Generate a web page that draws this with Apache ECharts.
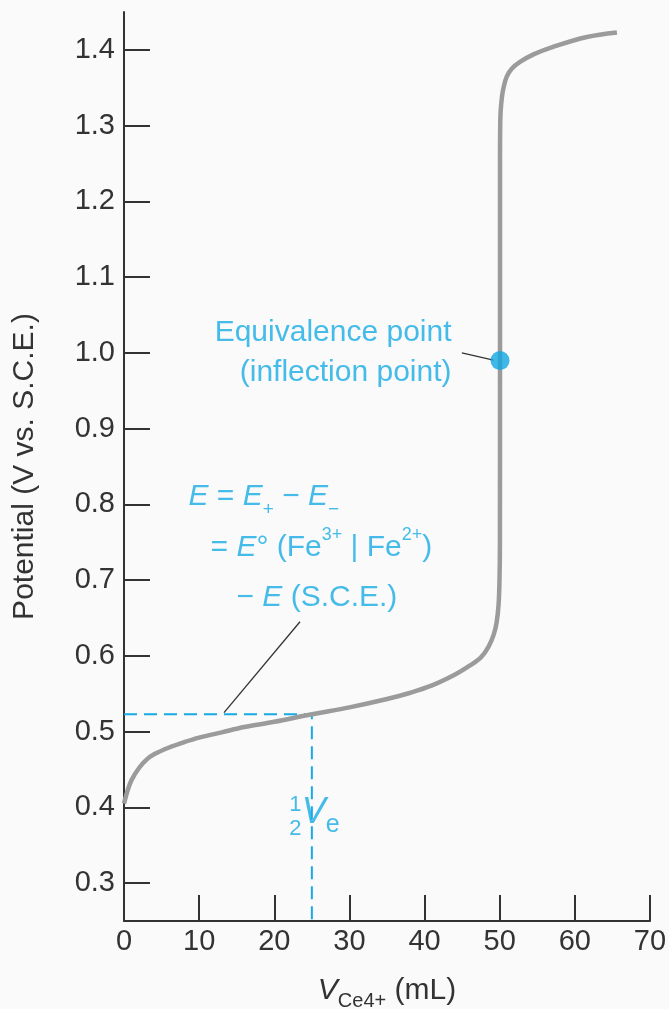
<!DOCTYPE html>
<html>
<head>
<meta charset="utf-8">
<script src="https://cdn.jsdelivr.net/npm/echarts@6/dist/echarts.min.js"></script>
<style>
  html, body { margin: 0; padding: 0; background: #fafafa; }
  #chart { width: 669px; height: 1009px; }
</style>
</head>
<body>
<div id="chart"></div>
<script>
    // titration curve (mL of Ce4+, volts vs S.C.E.)
    var volume = [0, 0.5, 1, 2, 3, 4, 6, 8, 10, 13, 16, 20, 25, 30, 35, 38, 41, 44, 46, 47.5,
        48.5, 49.2, 49.6, 49.85, 49.97, 50.03, 50.04, 50.04, 50.06, 50.12, 50.3, 50.55, 50.95, 51.6, 52.7, 54.5, 57.1, 61.6, 65.6];
    var potential = [0.405, 0.423, 0.436, 0.452, 0.463, 0.470, 0.479, 0.486, 0.492, 0.499, 0.506, 0.513, 0.523, 0.532, 0.543, 0.551, 0.561, 0.575, 0.587, 0.598,
        0.612, 0.628, 0.645, 0.668, 0.70, 0.75, 1.0, 1.25, 1.295, 1.318, 1.338, 1.352, 1.365, 1.375, 1.384, 1.394, 1.404, 1.417, 1.423];

    var equivalencePoint = [50.04, 0.99];
    var halfVolume = [[0, 0.523], [25, 0.523], [25, 0.25]];
    var leaderEquiv = [[44.96, 1.0], [49.17, 0.9905]];
    var leaderEq = [[23.42, 0.645], [13.31, 0.525]];

    var xTicks = [0, 10, 20, 30, 40, 50, 60, 70];
    var yTicks = [0.3, 0.4, 0.5, 0.6, 0.7, 0.8, 0.9, 1.0, 1.1, 1.2, 1.3, 1.4];

    var cyan = "#16abe4";
    var ink = "#333333";
    var font = "Liberation Sans";

    var chart = echarts.init(document.getElementById("chart"));

    var curve = volume.map(function (v, i) {
        return [v, potential[i]];
    });

    // rich styles shared by the cyan annotations
    var richStyles = {
        i: { fontStyle: "italic", fontSize: 30, lineHeight: 44, color: cyan, fontFamily: font },
        sub: { fontSize: 19, lineHeight: 19, verticalAlign: "bottom", color: cyan, fontFamily: font },
        sup: { fontSize: 18, lineHeight: 25, verticalAlign: "top", color: cyan, fontFamily: font },
        bigV: { fontStyle: "italic", fontSize: 36, lineHeight: 48, color: cyan, fontFamily: font },
        ve: { fontSize: 25, lineHeight: 25, verticalAlign: "bottom", color: cyan, fontFamily: font },
        frac: { fontSize: 22, lineHeight: 24, color: cyan, fontFamily: font }
    };

    function note(pos, text, position, extra) {
        var label = {
            show: true,
            position: position,
            distance: 0,
            formatter: text,
            color: cyan,
            fontSize: 30,
            lineHeight: 44,
            fontFamily: font,
            rich: richStyles
        };
        for (var k in extra) label[k] = extra[k];
        return { value: pos, label: label };
    }

    var notes = [
        note([43.65, 1.0], "Equivalence point\n(inflection point)", "left", { lineHeight: 40 }),
        note([8.52, 0.810], "{i|E} = {i|E}{sub|+} − {i|E}{sub|−}", "right"),
        note([11.45, 0.7425], "= {i|E}° (Fe{sup|3+} | Fe{sup|2+})", "right"),
        note([14.9, 0.6765], "− {i|E} (S.C.E.)", "right"),
        note([22.8, 0.387], "{frac|1}\n{frac|2}", "inside", { lineHeight: 24 }),
        note([23.6, 0.392], "{bigV|V}{ve|e}", "right", { lineHeight: 48 })
    ];

    var option = {
        backgroundColor: "#fafafa",
        animation: false,
        grid: { left: 124, right: 19, top: 12, bottom: 88, outerBoundsMode: "none", containLabel: false },
        xAxis: {
            type: "value",
            min: 0,
            max: 70,
            interval: 10,
            name: "{v|V}{s|Ce4+} (mL)",
            nameLocation: "middle",
            nameGap: 50,
            nameTextStyle: {
                fontSize: 30,
                color: ink,
                fontFamily: font,
                rich: {
                    v: { fontStyle: "italic", fontSize: 30, lineHeight: 40, color: ink, fontFamily: font },
                    s: { fontSize: 20, lineHeight: 20, verticalAlign: "bottom", color: ink, fontFamily: font }
                }
            },
            axisLine: { lineStyle: { color: ink, width: 2 } },
            axisTick: { inside: true, length: 26, lineStyle: { color: ink, width: 2 } },
            axisLabel: {
                customValues: xTicks,
                fontSize: 29, color: ink, fontFamily: font, margin: 6
            },
            splitLine: { show: false }
        },
        yAxis: {
            type: "value",
            min: 0.25,
            max: 1.45,
            name: "Potential (V vs. S.C.E.)",
            nameLocation: "middle",
            nameGap: 84,
            nameTextStyle: { fontSize: 30, color: ink, fontFamily: font },
            axisLine: { show: true, lineStyle: { color: ink, width: 2 } },
            axisTick: { show: true, inside: true, length: 26, customValues: yTicks, lineStyle: { color: ink, width: 2 } },
            axisLabel: {
                customValues: yTicks,
                formatter: function (v) { return v.toFixed(1); },
                fontSize: 29, color: ink, fontFamily: font, margin: 9
            },
            splitLine: { show: false }
        },
        series: [
            {
                name: "half",
                type: "line",
                data: halfVolume,
                symbol: "none",
                lineStyle: { color: cyan, width: 2, type: [13, 7] },
                z: 1
            },
            {
                name: "curve",
                type: "line",
                data: curve,
                smooth: 0.35,
                symbol: "none",
                lineStyle: { color: "#9b9b9b", width: 4.5 },
                z: 2
            },
            {
                name: "leaderEquiv",
                type: "line",
                data: leaderEquiv,
                symbol: "none",
                lineStyle: { color: ink, width: 1.3 },
                z: 3
            },
            {
                name: "leaderEq",
                type: "line",
                data: leaderEq,
                symbol: "none",
                lineStyle: { color: ink, width: 1.3 },
                z: 3
            },
            {
                name: "equivalence",
                type: "scatter",
                data: [equivalencePoint],
                symbolSize: 19,
                itemStyle: { color: "#10a8e4" },
                z: 5
            },
            {
                name: "notes",
                type: "scatter",
                data: notes,
                symbolSize: 1,
                itemStyle: { color: "rgba(0,0,0,0)" },
                silent: true,
                z: 6
            }
        ]
    };

    chart.setOption(option);
</script>
</body>
</html>
